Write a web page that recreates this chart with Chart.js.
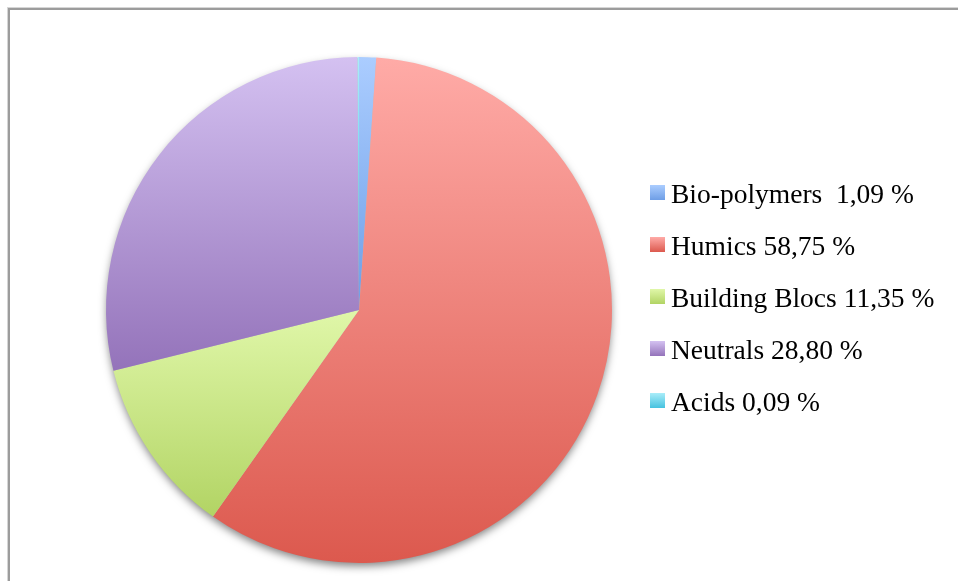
<!DOCTYPE html>
<html>
<head>
<meta charset="utf-8">
<script src="https://cdn.jsdelivr.net/npm/chart.js@4.4.1/dist/chart.umd.min.js"></script>
<style>
  html, body { margin: 0; padding: 0; background: #fff; overflow: hidden; }
  #wrap { position: relative; width: 958px; height: 581px; }
  #frame {
    position: absolute; left: 8px; top: 8px; width: 1000px; height: 600px;
    border-left: 2px solid #9c9c9c; border-top: 2px solid #9c9c9c;
    box-shadow: -1px -1px 0 #d6d6d6;
  }
  #pie { position: absolute; left: 0; top: 0; }
  #legend { position: absolute; left: 650px; top: 168px; }
  .item { position: relative; height: 52px; line-height: 52px; }
  .box { position: absolute; left: 0; top: 17px; width: 15px; height: 15px; }
  .txt {
    position: absolute; left: 21px; top: 0; white-space: pre;
    font-family: "Liberation Serif", serif; font-size: 27.5px; color: #000;
  }
</style>
</head>
<body>
<div id="wrap">
  <div id="frame"></div>
  <canvas id="pie" width="958" height="581"></canvas>
  <div id="legend"></div>
</div>
<script>
// fractions (%) in clockwise order, starting at 12 o'clock
const categories = ['Bio-polymers', 'Humics', 'Building Blocs', 'Neutrals', 'Acids'];
const shares = [1.09, 58.75, 11.35, 28.80, 0.09];
const labelGap = ['  ', ' ', ' ', ' ', ' '];

// top / bottom colours of each slice gradient
const topColors = ['#abcdff', '#ffaba7', '#e0f7a9', '#d4c1f1', '#a9edf9'];
const bottomColors = ['#6e9ee6', '#dc594e', '#b2d464', '#9473ba', '#46c2df'];

const legendText = categories.map((c, i) =>
  c + labelGap[i] + shares[i].toFixed(2).replace('.', ',') + ' %');

// legend
const legend = document.getElementById('legend');
categories.forEach((c, i) => {
  const row = document.createElement('div');
  row.className = 'item';
  row.innerHTML = '<div class="box" style="background:linear-gradient(to bottom,' +
    topColors[i] + ',' + bottomColors[i] + ')"></div><div class="txt"></div>';
  row.querySelector('.txt').textContent = legendText[i];
  legend.appendChild(row);
});

// vertical gradient spanning the height of one slice
function sliceGradient(context) {
  const chart = context.chart;
  const i = context.dataIndex;
  const area = chart.chartArea;
  if (!area) return topColors[i];
  const cx = (area.left + area.right) / 2;
  const cy = (area.top + area.bottom) / 2;
  const r = Math.min(area.right - area.left, area.bottom - area.top) / 2;
  const total = shares.reduce((a, b) => a + b, 0);
  let before = 0;
  for (let k = 0; k < i; k++) before += shares[k];
  const a0 = -Math.PI / 2 + 2 * Math.PI * before / total;
  const a1 = a0 + 2 * Math.PI * shares[i] / total;
  const ys = [cy, cy + r * Math.sin(a0), cy + r * Math.sin(a1)];
  [Math.PI / 2, 3 * Math.PI / 2, -Math.PI / 2].forEach(a => {
    if (a >= a0 && a <= a1) ys.push(cy + r * Math.sin(a));
  });
  const y0 = Math.min(...ys), y1 = Math.max(...ys);
  const g = chart.ctx.createLinearGradient(0, y0, 0, Math.max(y1, y0 + 1));
  g.addColorStop(0, topColors[i]);
  g.addColorStop(1, bottomColors[i]);
  return g;
}

// soft drop shadow under the whole pie
const pieShadow = {
  id: 'pieShadow',
  beforeDatasetsDraw(chart) {
    const arc = chart.getDatasetMeta(0).data[0];
    if (!arc) return;
    const ctx = chart.ctx;
    ctx.save();
    ctx.shadowColor = 'rgba(0,0,0,0.5)';
    ctx.shadowBlur = 8;
    ctx.shadowOffsetY = 4;
    ctx.fillStyle = '#bbb';
    ctx.beginPath();
    ctx.arc(arc.x, arc.y, arc.outerRadius - 1, 0, Math.PI * 2);
    ctx.fill();
    ctx.restore();
  }
};

new Chart(document.getElementById('pie'), {
  type: 'pie',
  data: {
    labels: categories,
    datasets: [{
      data: shares,
      backgroundColor: sliceGradient,
      borderWidth: 0,
    }],
  },
  options: {
    responsive: false,
    animation: false,
    layout: { padding: { left: 106, right: 346, top: 57, bottom: 18 } },
    plugins: {
      legend: { display: false },
      tooltip: { enabled: false },
    },
  },
  plugins: [pieShadow],
});
</script>
</body>
</html>
